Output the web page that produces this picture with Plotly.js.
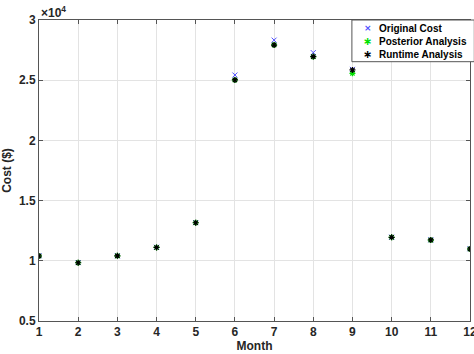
<!DOCTYPE html>
<html>
<head>
<meta charset="utf-8">
<script src="https://cdn.plot.ly/plotly-3.0.1.min.js"></script>
<style>html,body{margin:0;padding:0;background:#fff;}#chart{width:474px;height:354px;}</style>
</head>
<body>
<div id="chart"></div>
<script>
const months = [1,2,3,4,5,6,7,8,9,10,11,12];
const originalCost = [10420, 9850, 10420, 11130, 13170, 25430, 28330, 27290, 25900, 11960, 11740, 11000];
const posteriorAnalysis = [10400, 9840, 10410, 11110, 13160, 25020, 27930, 26950, 25570, 11950, 11720, 10980];
const runtimeAnalysis = [10400, 9840, 10410, 11110, 13160, 25020, 27920, 26960, 25850, 11950, 11730, 10980];
const seriesNames = ['Original Cost', 'Posterior Analysis', 'Runtime Analysis'];
const seriesColors = ['#5050ff', '#00e000', '#000000'];
const yTickVals = [5000, 10000, 15000, 20000, 25000, 30000];
const yTickText = ['0.5', '1', '1.5', '2', '2.5', '3'];

const fam = 'Liberation Sans, Arial, sans-serif';
const font = {family: fam, size: 12, color: '#262626'};

const traces = [
  {x: months, y: originalCost, name: seriesNames[0], type: 'scatter', mode: 'markers',
   marker: {symbol: 'x-thin-open', size: 5, line: {color: seriesColors[0], width: 1}, color: seriesColors[0]}},
  {x: months, y: posteriorAnalysis, name: seriesNames[1], type: 'scatter', mode: 'markers',
   marker: {symbol: 'asterisk-open', size: 5, line: {color: seriesColors[1], width: 1.2}, color: seriesColors[1]}},
  {x: months, y: runtimeAnalysis, name: seriesNames[2], type: 'scatter', mode: 'markers',
   marker: {symbol: 'asterisk-open', size: 5, line: {color: seriesColors[2], width: 1.2}, color: seriesColors[2]}}
];

const axisCommon = {
  showline: true, linecolor: '#555', linewidth: 1, mirror: 'allticks',
  ticks: 'inside', ticklen: 4, tickcolor: '#555',
  showgrid: true, gridcolor: '#e3e3e3', gridwidth: 1, zeroline: false,
  ticklabeloverflow: 'allow',
  tickfont: {family: fam, size: 12, color: '#262626', weight: 'bold'}
};

// custom compact legend (MATLAB style)
const legendRowsY = [0.9734, 0.928, 0.887];
const legendGlyphs = ['×', '∗', '∗'];
const annotations = [{
  xref: 'paper', yref: 'paper', x: 0, y: 1, xanchor: 'left', yanchor: 'bottom',
  text: '×10<sup>4</sup>', showarrow: false, yshift: -2,
  font: {family: fam, size: 12, color: '#262626', weight: 'bold'}
}];
seriesNames.forEach((n, i) => {
  annotations.push({xref: 'paper', yref: 'paper', x: 0.7626, y: legendRowsY[i], xanchor: 'center', yanchor: 'middle',
    text: legendGlyphs[i], showarrow: false, font: {family: 'DejaVu Sans', size: i === 0 ? 9 : 11, color: seriesColors[i], weight: 'bold'}});
  annotations.push({xref: 'paper', yref: 'paper', x: 0.785, y: legendRowsY[i], xanchor: 'left', yanchor: 'middle',
    text: '<b>' + n + '</b>', showarrow: false, font: {family: fam, size: 10, color: '#000'}});
});

const layout = {
  width: 474, height: 354,
  margin: {l: 39, r: 4, t: 20, b: 33},
  paper_bgcolor: '#fff', plot_bgcolor: '#fff',
  font: font,
  showlegend: false,
  xaxis: Object.assign({}, axisCommon, {
    range: [1, 12], tickmode: 'array', tickvals: months, ticktext: months.map(String),
    title: {text: '<b>Month</b>', font: {family: fam, size: 12, color: '#262626'}, standoff: 2}
  }),
  yaxis: Object.assign({}, axisCommon, {
    range: [5000, 30000], tickmode: 'array', tickvals: yTickVals, ticktext: yTickText,
    title: {text: '<b>Cost ($)</b>', font: {family: fam, size: 12, color: '#262626'}, standoff: 10}
  }),
  shapes: [{type: 'rect', xref: 'paper', yref: 'paper', x0: 0.726, x1: 1.01, y0: 0.8615, y1: 1,
    fillcolor: '#fff', line: {color: '#555', width: 1}, layer: 'above'}],
  annotations: annotations
};

Plotly.newPlot('chart', traces, layout, {displayModeBar: false, staticPlot: true});
</script>
</body>
</html>
